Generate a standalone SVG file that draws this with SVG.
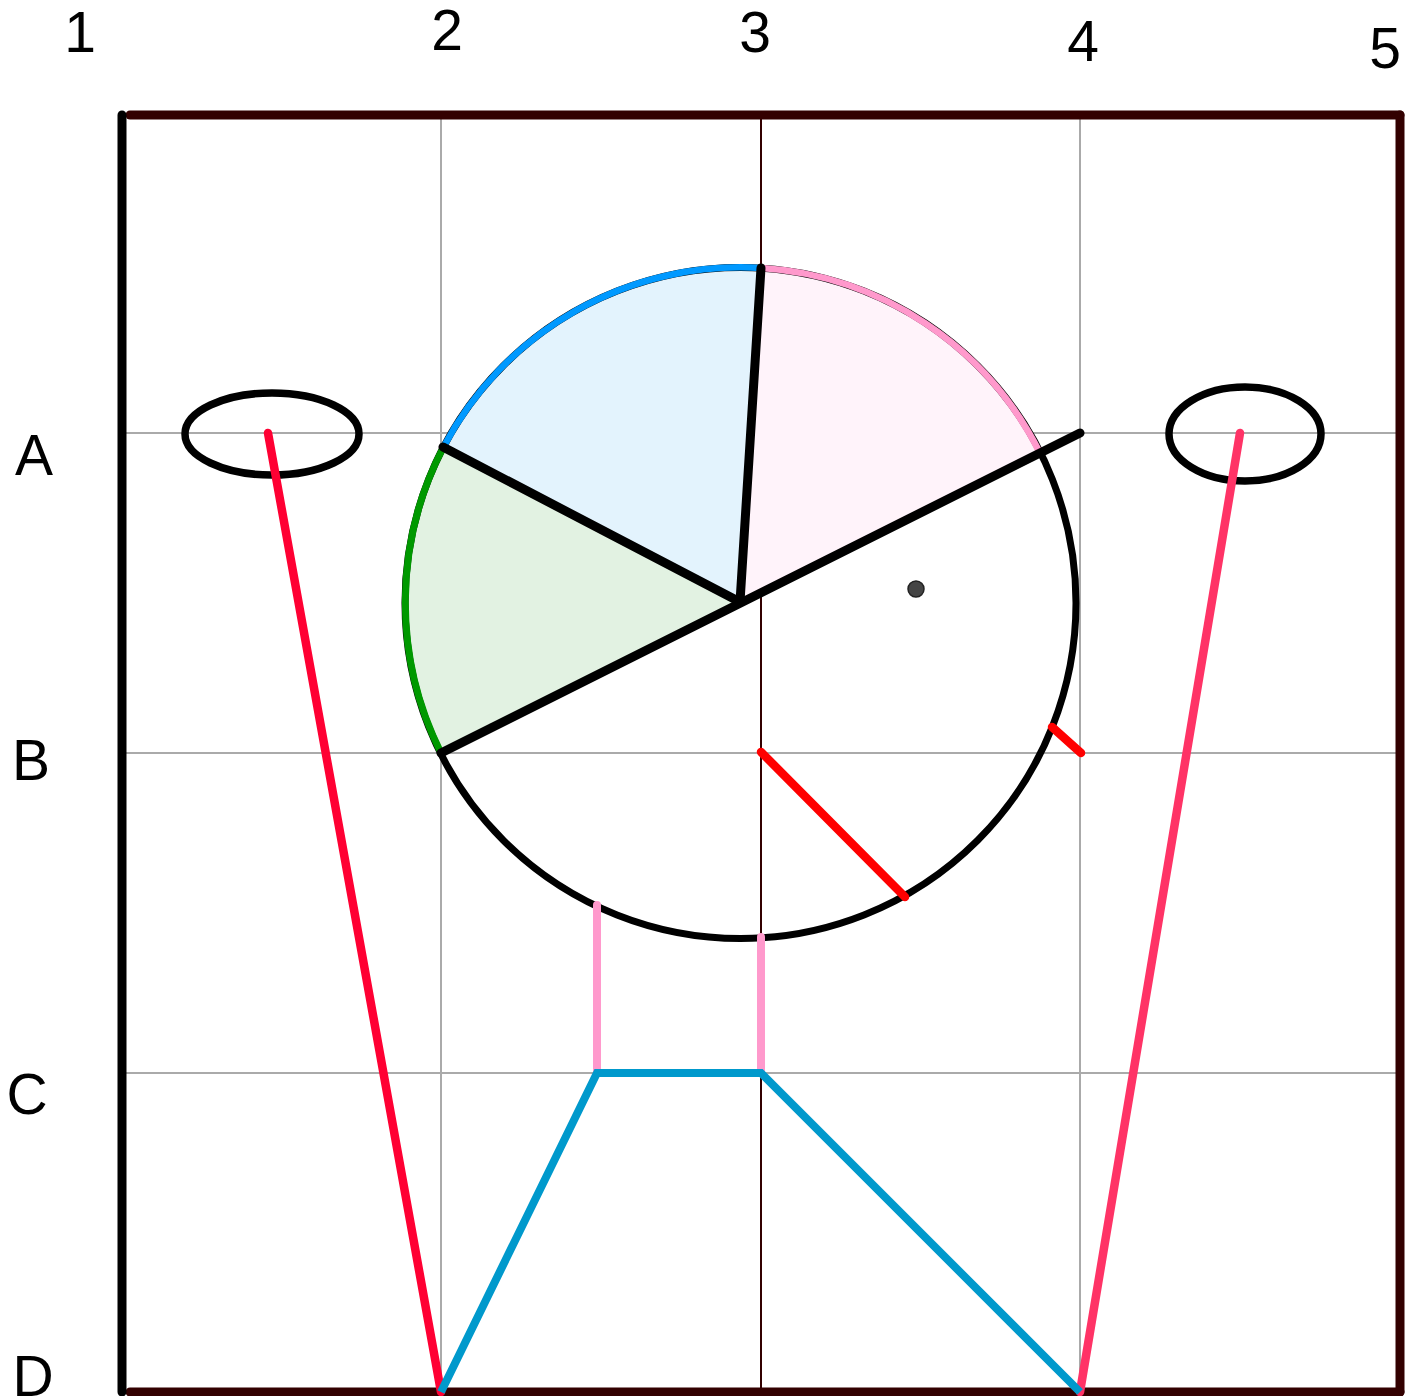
<svg xmlns="http://www.w3.org/2000/svg" width="1414" height="1396" viewBox="0 0 1414 1396">
<style>
.lbl{font-family:"Liberation Sans",Arial,sans-serif;font-size:57px;fill:#000;text-anchor:middle}
.grid{stroke:#aaaaaa;stroke-width:2;fill:none}
.thick{stroke-linecap:round;fill:none}
</style>
<rect x="0" y="0" width="1414" height="1396" fill="#ffffff"/>
<g id="labels">
<text class="lbl" x="80" y="52">1</text>
<text class="lbl" x="447" y="50">2</text>
<text class="lbl" x="755" y="52">3</text>
<text class="lbl" x="1083" y="61">4</text>
<text class="lbl" x="1385" y="68">5</text>
<text class="lbl" x="34" y="475">A</text>
<text class="lbl" x="31" y="780">B</text>
<text class="lbl" x="27" y="1114">C</text>
<text class="lbl" x="33" y="1396">D</text>
</g>
<g id="grid">
<line class="grid" x1="441" y1="115" x2="441" y2="1392"/>
<line class="grid" x1="1080" y1="115" x2="1080" y2="1392"/>
<line class="grid" x1="126" y1="433" x2="1400" y2="433"/>
<line class="grid" x1="126" y1="753" x2="1400" y2="753"/>
<line class="grid" x1="126" y1="1073" x2="1400" y2="1073"/>
<line x1="761" y1="115" x2="761" y2="1392" stroke="#330000" stroke-width="2"/>
</g>
<g id="frame">
<line class="thick" x1="130" y1="115" x2="1400" y2="115" stroke="#330000" stroke-width="9"/>
<line class="thick" x1="1400" y1="115" x2="1400" y2="1392" stroke="#330000" stroke-width="9"/>
<line class="thick" x1="130" y1="1392" x2="1400" y2="1392" stroke="#330000" stroke-width="9"/>
<line class="thick" x1="122" y1="115" x2="122" y2="1392" stroke="#000000" stroke-width="9"/>
</g>
<g id="circle">
<path d="M740.5,603 L441,753 A335.5,335.5 0 0 1 443.5,447 Z" fill="#e2f2e2"/>
<path d="M740.5,603 L443.5,447 A335.5,335.5 0 0 1 761,268 Z" fill="#e3f3fd"/>
<path d="M740.5,603 L761,268 A335.5,335.5 0 0 1 1040,453 Z" fill="#fff3fa"/>
<circle cx="740.5" cy="603" r="335.5" fill="none" stroke="#000" stroke-width="7"/>
<path d="M441,753 A335.5,335.5 0 0 1 443.5,447" fill="none" stroke="#009900" stroke-width="7"/>
<path d="M443.5,447 A335.5,335.5 0 0 1 761,268" fill="none" stroke="#0099ff" stroke-width="6.5"/>
<path d="M761,268 A335.5,335.5 0 0 1 1040,453" fill="none" stroke="#ff99cc" stroke-width="6.5"/>
<line class="thick" x1="740" y1="602" x2="761" y2="268" stroke="#000" stroke-width="9"/>
<line class="thick" x1="740" y1="602" x2="443" y2="447" stroke="#000" stroke-width="9"/>
<line class="thick" x1="441" y1="753" x2="1080" y2="433" stroke="#000" stroke-width="9"/>
<circle cx="916" cy="589" r="8" fill="#444444" stroke="#222" stroke-width="1.5"/>
</g>
<g id="left-ear">
<ellipse cx="272" cy="434" rx="87" ry="41" fill="none" stroke="#000" stroke-width="7.5"/>
</g>
<g id="right-ear">
<ellipse cx="1245" cy="434" rx="76" ry="47" fill="none" stroke="#000" stroke-width="7.5"/>
</g>
<g id="connectors">
<line class="thick" x1="268" y1="433" x2="441" y2="1392" stroke="#ff0033" stroke-width="8.5"/>
<line class="thick" x1="1240" y1="433" x2="1080" y2="1392" stroke="#ff3366" stroke-width="8.5"/>
<line class="thick" x1="761" y1="752" x2="905" y2="897" stroke="#ff0000" stroke-width="8.5"/>
<line class="thick" x1="1052" y1="727" x2="1081" y2="753" stroke="#ff0000" stroke-width="8.5"/>
<line class="thick" x1="597" y1="905" x2="597" y2="1073" stroke="#ff99cc" stroke-width="8"/>
<line class="thick" x1="761" y1="937" x2="761" y2="1073" stroke="#ff99cc" stroke-width="8"/>
<polyline points="441,1392 597,1073 761,1073 1080,1392" fill="none" stroke="#0099cc" stroke-width="8" stroke-linejoin="miter"/>
</g>
</svg>
